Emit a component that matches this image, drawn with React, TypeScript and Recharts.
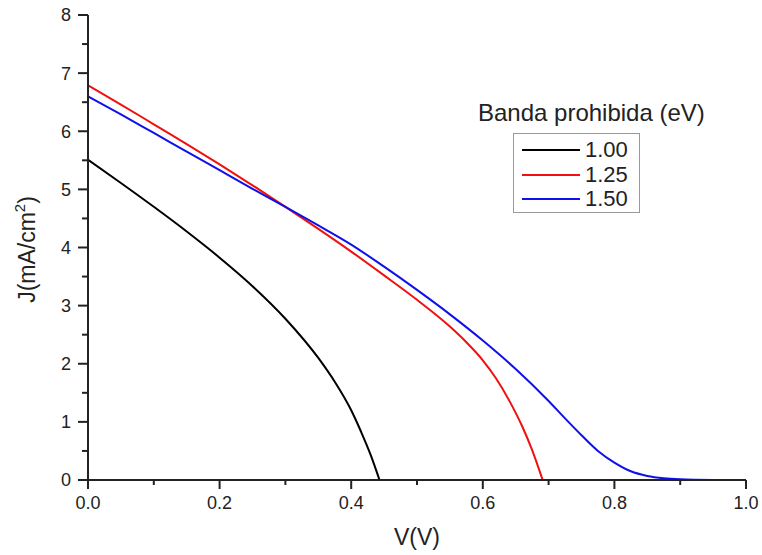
import { LineChart, Line, XAxis, YAxis, Legend } from "recharts";

const FONT = "'Liberation Sans', Arial, sans-serif";
const INK = "#222";

if (typeof document !== "undefined") {
  document.body.style.margin = "0";
}

// J-V curves, V in volts, J in mA/cm2
const blackV = [0, 0.05, 0.1, 0.15, 0.2, 0.25, 0.3, 0.35, 0.375, 0.4, 0.415, 0.43, 0.443];
const blackJ = [5.51, 5.11, 4.7, 4.275, 3.825, 3.335, 2.775, 2.1, 1.69, 1.2, 0.83, 0.42, 0];

const redV = [0, 0.05, 0.1, 0.15, 0.2, 0.25, 0.3, 0.35, 0.4, 0.45, 0.5, 0.55, 0.575, 0.6, 0.62, 0.64, 0.66, 0.675, 0.691];
const redJ = [6.79, 6.46, 6.12, 5.78, 5.43, 5.07, 4.7, 4.32, 3.93, 3.52, 3.1, 2.64, 2.37, 2.06, 1.75, 1.37, 0.92, 0.515, 0];

const blueV = [0, 0.05, 0.1, 0.15, 0.2, 0.25, 0.3, 0.35, 0.4, 0.45, 0.5, 0.55, 0.6, 0.65, 0.7, 0.725, 0.75, 0.775, 0.8, 0.825, 0.85, 0.875, 0.9, 0.95];
const blueJ = [6.6, 6.29, 5.97, 5.65, 5.33, 5.01, 4.7, 4.38, 4.05, 3.67, 3.27, 2.85, 2.4, 1.91, 1.36, 1.06, 0.77, 0.5, 0.3, 0.15, 0.07, 0.03, 0.012, 0];

const xTicks = [0, 0.1, 0.2, 0.3, 0.4, 0.5, 0.6, 0.7, 0.8, 0.9, 1.0];
const yTicks = [0, 0.5, 1, 1.5, 2, 2.5, 3, 3.5, 4, 4.5, 5, 5.5, 6, 6.5, 7, 7.5, 8];

const legendTitle = "Banda prohibida (eV)";

const toPoints = (vs: number[], js: number[]) => vs.map((v, i) => ({ v, j: js[i] }));

const series = [
  { name: "1.00", color: "#000000", data: toPoints(blackV, blackJ) },
  { name: "1.25", color: "#f01010", data: toPoints(redV, redJ) },
  { name: "1.50", color: "#1010e8", data: toPoints(blueV, blueJ) },
];

function XTick({ x, y, payload }: any) {
  const val = payload.value;
  const major = Math.round(val * 10) % 2 === 0;
  return (
    <g>
      <line x1={x} x2={x} y1={y} y2={y + (major ? 9 : 5)} stroke={INK} strokeWidth={2} />
      {major && (
        <text x={x} y={y + 23} dy="0.355em" textAnchor="middle" fontSize={18} fontFamily={FONT} fill={INK}>
          {val.toFixed(1)}
        </text>
      )}
    </g>
  );
}

function YTick({ x, y, payload }: any) {
  const val = payload.value;
  const major = Number.isInteger(val);
  return (
    <g>
      <line x1={x - (major ? 10 : 6)} x2={x} y1={y} y2={y} stroke={INK} strokeWidth={2} />
      {major && (
        <text x={x - 17} y={y} dy="0.355em" textAnchor="end" fontSize={18} fontFamily={FONT} fill={INK}>
          {val}
        </text>
      )}
    </g>
  );
}

function YLabel({ viewBox }: any) {
  const cx = viewBox.x + 27;
  const cy = viewBox.y + viewBox.height / 2 + 2;
  return (
    <text
      x={cx}
      y={cy}
      dy="0.355em"
      textAnchor="middle"
      transform={`rotate(-90, ${cx}, ${cy})`}
      fontSize={23}
      fontFamily={FONT}
      fill={INK}
    >
      J(mA/cm
      <tspan fontSize={15} dy="-0.7em">2</tspan>
      <tspan dy="0.45em">)</tspan>
    </text>
  );
}

function renderLegend(props: any) {
  const items = props.payload || [];
  return (
    <div style={{ position: "relative", width: 260, height: 125, fontFamily: FONT, color: INK }}>
      <div style={{ position: "absolute", left: 8, top: 0, fontSize: 24, lineHeight: "26px", whiteSpace: "nowrap" }}>
        {legendTitle}
      </div>
      <div
        style={{
          position: "absolute",
          left: 43,
          top: 33,
          width: 127,
          height: 80,
          border: "1px solid #999",
          boxSizing: "border-box",
        }}
      >
        {items.map((it: any, i: number) => (
          <div key={it.value} style={{ position: "absolute", left: 0, top: 4 + i * 24.5, height: 24, width: 127 }}>
            <div
              style={{
                position: "absolute",
                left: 8,
                top: 11,
                width: 58,
                height: 2,
                background: it.color,
              }}
            />
            <div style={{ position: "absolute", left: 71, top: 0, fontSize: 22, lineHeight: "24px" }}>{it.value}</div>
          </div>
        ))}
      </div>
    </div>
  );
}

export default function App() {
  return (
    <LineChart width={762} height={555} margin={{ top: 15, right: 16, bottom: 0, left: 0 }}>
      <XAxis
        type="number"
        dataKey="v"
        domain={[0, 1]}
        ticks={xTicks}
        interval={0}
        height={75}
        tickSize={0}
        tickMargin={0}
        tickLine={false}
        axisLine={{ stroke: INK, strokeWidth: 2 }}
        tick={<XTick />}
        allowDataOverflow
        label={{ value: "V(V)", position: "insideBottom", offset: 10, fontSize: 23, fontFamily: FONT, fill: INK }}
      />
      <XAxis
        xAxisId="top"
        orientation="top"
        type="number"
        domain={[0, 1]}
        height={0}
        tick={false}
        tickLine={false}
        axisLine={{ stroke: INK, strokeWidth: 2 }}
      />
      <YAxis
        type="number"
        domain={[0, 8]}
        ticks={yTicks}
        interval={0}
        width={88}
        tickSize={0}
        tickMargin={0}
        tickLine={false}
        axisLine={{ stroke: INK, strokeWidth: 2 }}
        tick={<YTick />}
        allowDataOverflow
        label={<YLabel />}
      />
      <YAxis
        yAxisId="right"
        orientation="right"
        type="number"
        domain={[0, 8]}
        width={0}
        tick={false}
        tickLine={false}
        axisLine={{ stroke: INK, strokeWidth: 2 }}
      />
      <Legend
        layout="vertical"
        verticalAlign="middle"
        align="center"
        wrapperStyle={{ left: 470, top: 100, width: 260, height: 125 }}
        content={renderLegend}
      />
      {series.map((s) => (
        <Line
          key={s.name}
          data={s.data}
          dataKey="j"
          name={s.name}
          type="monotone"
          stroke={s.color}
          strokeWidth={2}
          dot={false}
          activeDot={false}
          isAnimationActive={false}
        />
      ))}
    </LineChart>
  );
}
